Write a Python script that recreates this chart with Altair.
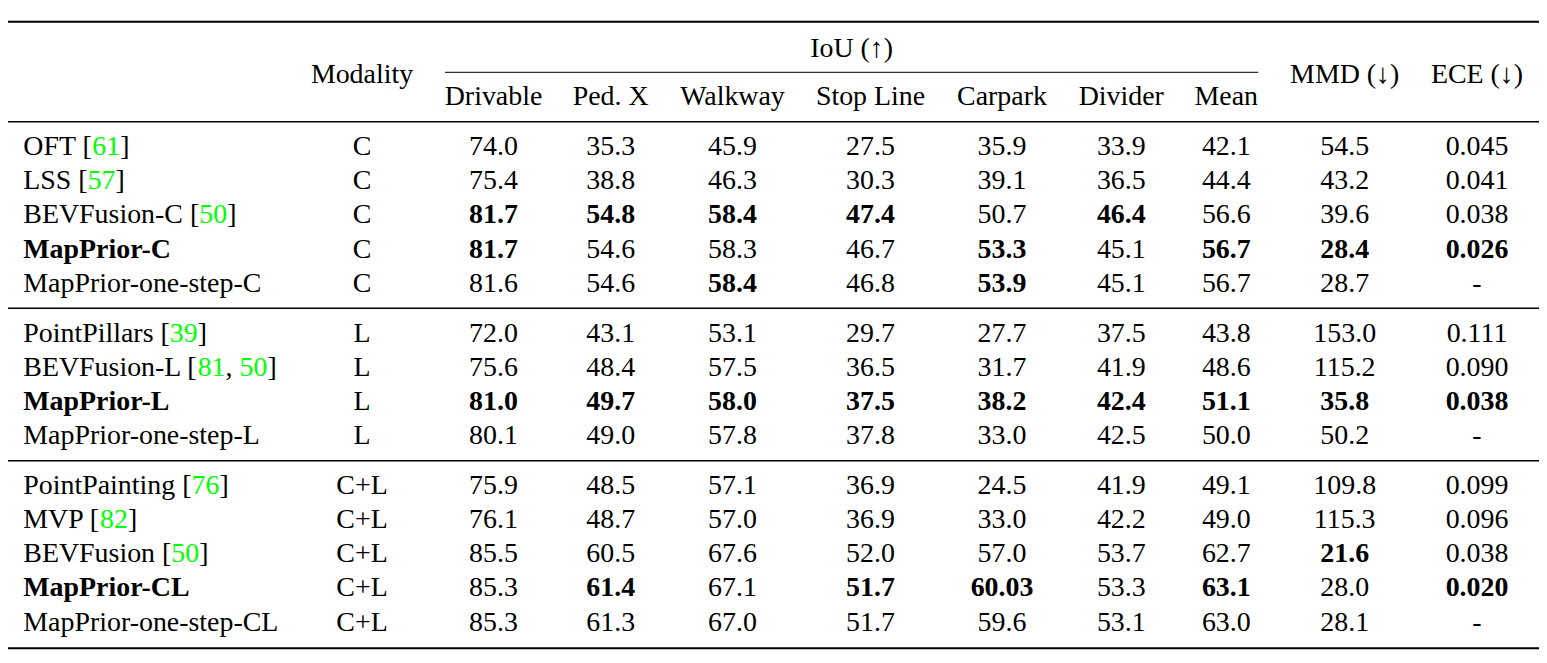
import altair as alt
import pandas as pd

methods = ["OFT", "LSS", "BEVFusion-C", "MapPrior-C", "MapPrior-one-step-C",
           "PointPillars", "BEVFusion-L", "MapPrior-L", "MapPrior-one-step-L",
           "PointPainting", "MVP", "BEVFusion", "MapPrior-CL", "MapPrior-one-step-CL"]
citations = [["61"], ["57"], ["50"], [], [],
             ["39"], ["81", "50"], [], [],
             ["76"], ["82"], ["50"], [], []]
bold_methods = ["MapPrior-C", "MapPrior-L", "MapPrior-CL"]
section_sizes = [5, 4, 5]
modality = ["C"] * 5 + ["L"] * 4 + ["C+L"] * 5
drivable = ["74.0", "75.4", "81.7", "81.7", "81.6", "72.0", "75.6", "81.0", "80.1",
            "75.9", "76.1", "85.5", "85.3", "85.3"]
ped_x = ["35.3", "38.8", "54.8", "54.6", "54.6", "43.1", "48.4", "49.7", "49.0",
         "48.5", "48.7", "60.5", "61.4", "61.3"]
walkway = ["45.9", "46.3", "58.4", "58.3", "58.4", "53.1", "57.5", "58.0", "57.8",
           "57.1", "57.0", "67.6", "67.1", "67.0"]
stop_line = ["27.5", "30.3", "47.4", "46.7", "46.8", "29.7", "36.5", "37.5", "37.8",
             "36.9", "36.9", "52.0", "51.7", "51.7"]
carpark = ["35.9", "39.1", "50.7", "53.3", "53.9", "27.7", "31.7", "38.2", "33.0",
           "24.5", "33.0", "57.0", "60.03", "59.6"]
divider = ["33.9", "36.5", "46.4", "45.1", "45.1", "37.5", "41.9", "42.4", "42.5",
           "41.9", "42.2", "53.7", "53.3", "53.1"]
mean = ["42.1", "44.4", "56.6", "56.7", "56.7", "43.8", "48.6", "51.1", "50.0",
        "49.1", "49.0", "62.7", "63.1", "63.0"]
mmd = ["54.5", "43.2", "39.6", "28.4", "28.7", "153.0", "115.2", "35.8", "50.2",
       "109.8", "115.3", "21.6", "28.0", "28.1"]
ece = ["0.045", "0.041", "0.038", "0.026", "-", "0.111", "0.090", "0.038", "-",
       "0.099", "0.096", "0.038", "0.020", "-"]

bold_cells = {
    "BEVFusion-C": ["Drivable", "Ped. X", "Walkway", "Stop Line", "Divider"],
    "MapPrior-C": ["Drivable", "Carpark", "Mean", "MMD", "ECE"],
    "MapPrior-one-step-C": ["Walkway", "Carpark"],
    "MapPrior-L": ["Drivable", "Ped. X", "Walkway", "Stop Line", "Carpark",
                   "Divider", "Mean", "MMD", "ECE"],
    "BEVFusion": ["MMD"],
    "MapPrior-CL": ["Ped. X", "Stop Line", "Carpark", "Mean", "ECE"],
}

columns = ["Modality", "Drivable", "Ped. X", "Walkway", "Stop Line", "Carpark",
           "Divider", "Mean", "MMD", "ECE"]
column_values = [modality, drivable, ped_x, walkway, stop_line, carpark,
                 divider, mean, mmd, ece]
header_labels = ["Modality", "Drivable", "Ped. X", "Walkway", "Stop Line", "Carpark",
                 "Divider", "Mean", "MMD (\u2193)", "ECE (\u2193)"]
group_label = "IoU (\u2191)"
iou_columns = ["Drivable", "Ped. X", "Walkway", "Stop Line", "Carpark", "Divider", "Mean"]

# ---------------- layout / style ----------------
FONT = "Liberation Serif"
FS = 27.9
BLACK = "#000000"
GREEN = "#00ff00"
W, H = 1531, 647
X0, Y0 = 8, 8  # page margin
NAME_X = 23.3
COL_X = {"Modality": 362, "Drivable": 493.5, "Ped. X": 610.7, "Walkway": 732.5,
         "Stop Line": 870.5, "Carpark": 1002, "Divider": 1121.3, "Mean": 1226.3,
         "MMD": 1344.7, "ECE": 1477}
ROW0 = 155.0
PITCH = 34.2
SEC_GAP = 15.5
HEAD_GROUP_Y = 56.7
HEAD_MAIN_Y = 82.7
HEAD_SUB_Y = 105.0
RULE_LEFT, RULE_RIGHT = 7.3, 1540
CMID_LEFT, CMID_RIGHT = 445, 1258.3
rules_layout = [  # (y, width, partial)
    (21.7, 2.0, False), (72.3, 1.0, True), (121.7, 1.4, False),
    (308.3, 1.4, False), (460.7, 1.4, False), (648.3, 2.0, False)]

# Times / Liberation Serif advance widths (per 1000 em)
TIMES_W = {' ': 250, '[': 333, ']': 333, ',': 250, '-': 333,
           'A': 722, 'B': 667, 'C': 667, 'D': 722, 'E': 611, 'F': 556, 'G': 722,
           'L': 611, 'M': 889, 'O': 722, 'P': 556, 'S': 556, 'T': 611, 'V': 722,
           'a': 444, 'e': 444, 'g': 500, 'i': 278, 'l': 278, 'n': 500, 'o': 500,
           'p': 500, 'r': 333, 's': 389, 't': 278, 'u': 500}


def tw(s):
    return sum(TIMES_W.get(c, 500) for c in s) * FS / 1000.0


# row baselines
row_y = []
y = ROW0
for si, n in enumerate(section_sizes):
    for k in range(n):
        row_y.append(y)
        y += PITCH
    y += SEC_GAP

# ---------------- build tables ----------------
name_rows = []
for i, m in enumerate(methods):
    weight = "bold" if m in bold_methods else "normal"
    cites = citations[i]
    if not cites:
        name_rows.append(dict(x=NAME_X, y=row_y[i], text=m, color=BLACK, weight=weight))
        continue
    segs = [(m + " [", BLACK)]
    for j, c in enumerate(cites):
        if j > 0:
            segs.append((", ", BLACK))
        segs.append((c, GREEN))
    segs.append(("]", BLACK))
    x = NAME_X
    for txt, col in segs:
        name_rows.append(dict(x=x, y=row_y[i], text=txt, color=col, weight=weight))
        x += tw(txt)
names_df = pd.DataFrame(name_rows)

cell_rows = []
for ci, col in enumerate(columns):
    for i, m in enumerate(methods):
        b = col in bold_cells.get(m, [])
        cell_rows.append(dict(x=COL_X[col], y=row_y[i], text=column_values[ci][i],
                              color=BLACK, weight="bold" if b else "normal"))
cells_df = pd.DataFrame(cell_rows)

head_rows = []
for col, lab in zip(columns, header_labels):
    hy = HEAD_SUB_Y if col in iou_columns else HEAD_MAIN_Y
    head_rows.append(dict(x=COL_X[col], y=hy, text=lab, color=BLACK))
iou_center = (CMID_LEFT + CMID_RIGHT) / 2
head_rows.append(dict(x=iou_center, y=HEAD_GROUP_Y, text=group_label, color=BLACK))
heads_df = pd.DataFrame(head_rows)

rules_df = pd.DataFrame([
    dict(x=CMID_LEFT if p else RULE_LEFT, x2=CMID_RIGHT if p else RULE_RIGHT, y=ry, w=w)
    for ry, w, p in rules_layout])

# ---------------- chart ----------------
xs = alt.Scale(domain=[X0, X0 + W], nice=False, zero=False)
ys = alt.Scale(domain=[Y0, Y0 + H], nice=False, zero=False, reverse=True)


def text_layer(df, align, weight):
    return alt.Chart(df).mark_text(
        align=align, baseline="alphabetic", font=FONT, fontSize=FS, fontWeight=weight
    ).encode(
        x=alt.X("x:Q", scale=xs, axis=None),
        y=alt.Y("y:Q", scale=ys, axis=None),
        text="text:N",
        color=alt.Color("color:N", scale=None),
    )


rules = alt.Chart(rules_df).mark_rule(color=BLACK).encode(
    x=alt.X("x:Q", scale=xs, axis=None),
    x2="x2:Q",
    y=alt.Y("y:Q", scale=ys, axis=None),
    strokeWidth=alt.StrokeWidth("w:Q", scale=None),
)

chart = alt.layer(
    rules,
    text_layer(names_df[names_df.weight == "normal"], "left", "normal"),
    text_layer(names_df[names_df.weight == "bold"], "left", "bold"),
    text_layer(cells_df[cells_df.weight == "normal"], "center", "normal"),
    text_layer(cells_df[cells_df.weight == "bold"], "center", "bold"),
    text_layer(heads_df, "center", "normal"),
).properties(
    width=W, height=H, padding=0, autosize=alt.AutoSizeParams(type="none"),
    background="white",
).configure_view(stroke=None)

chart.save("out.html", embed_options={"renderer": "svg", "actions": False})
